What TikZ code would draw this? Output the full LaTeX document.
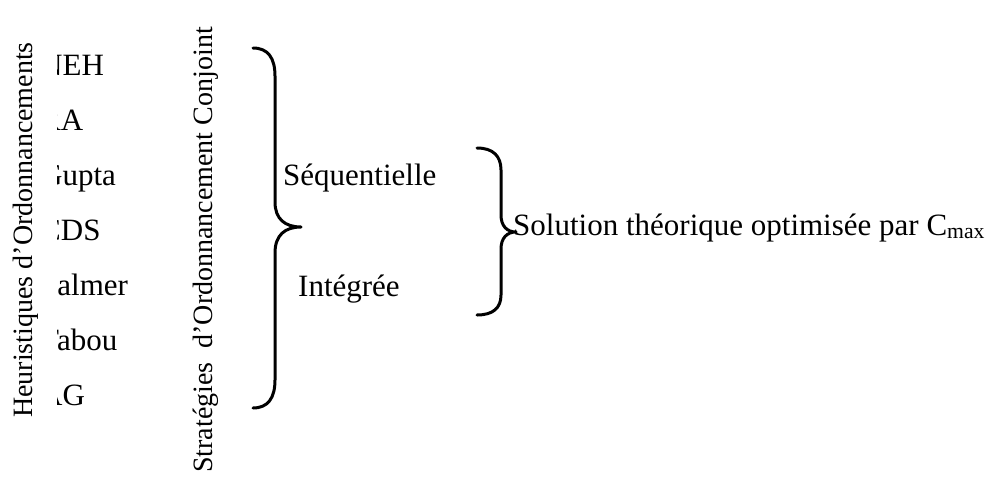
\documentclass[tikz,border=0pt]{standalone}
\usepackage{fontspec}
\setmainfont{Liberation Serif}
\tikzset{
  vtext/.style={rotate=90,anchor=base west,inner sep=0pt,font=\fontsize{28}{33}\selectfont},
  htext/.style={anchor=base west,inner sep=0pt,font=\fontsize{31}{37}\selectfont},
  bracepath/.style={line width=3pt,line cap=round,line join=round}
}
\begin{document}
\begin{tikzpicture}[x=1pt,y=1pt]
\useasboundingbox (0,0) rectangle (998,-477);
% vertical titles
\node[vtext] (heur) at (32,-418) {Heuristiques d’Ordonnancements};
\node[vtext] (strat) at (212,-473) {Stratégies\ \ d’Ordonnancement Conjoint};
% list of heuristics, clipped on the left
\begin{scope}
\clip (57,0) rectangle (240,-477);
\node[htext] (neh) at (40,-75) {NEH};
\node[htext] (ra) at (40,-130) {RA};
\node[htext] (gupta) at (40,-185) {Gupta};
\node[htext] (cds) at (40,-240) {CDS};
\node[htext] (palmer) at (40,-295) {Palmer};
\node[htext] (tabou) at (40,-350) {Tabou};
\node[htext] (ag) at (40,-405) {AG};
\end{scope}
% big brace
\draw[bracepath] (253,-48) .. controls (268,-48) and (275,-58) .. (275,-76)
  -- (275,-202) .. controls (275,-219) and (285,-227) .. (301,-227)
  .. controls (285,-227) and (275,-235) .. (275,-253)
  -- (275,-380) .. controls (275,-398) and (268,-408) .. (253,-408);
\node[htext] (seq) at (283,-185) {Séquentielle};
\node[htext] (integ) at (298,-296) {Intégrée};
% small brace
\draw[bracepath] (477,-148) .. controls (493,-148) and (501,-156) .. (501,-170)
  -- (501,-215) .. controls (501,-226) and (507,-232) .. (516,-232)
  .. controls (507,-232) and (501,-238) .. (501,-249)
  -- (501,-295) .. controls (501,-308) and (493,-315) .. (477,-315);
\node[htext] (sol) at (513,-235) {Solution théorique optimisée par C\textsubscript{max}};
\end{tikzpicture}
\end{document}
